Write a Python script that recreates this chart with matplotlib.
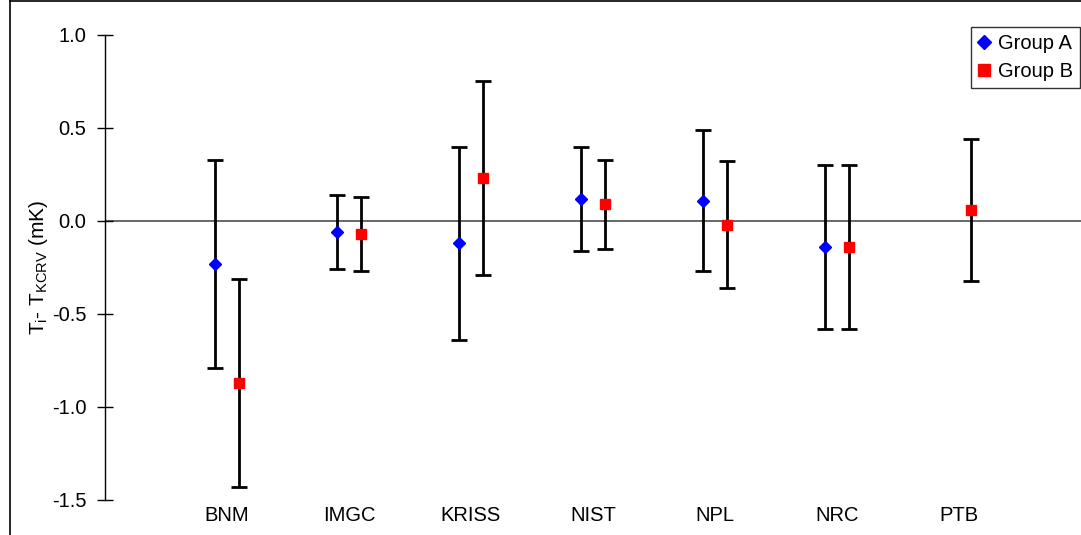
import matplotlib.pyplot as plt
import numpy as np
from matplotlib.lines import Line2D

plt.rcParams['font.family'] = ['Liberation Sans', 'DejaVu Sans']

labs = ['BNM', 'IMGC', 'KRISS', 'NIST', 'NPL', 'NRC', 'PTB']

# group A (no PTB value)
a_val = [-0.23, -0.06, -0.12, 0.12, 0.11, -0.14]
a_err = [0.56, 0.20, 0.52, 0.28, 0.38, 0.44]
# group B
b_val = [-0.87, -0.07, 0.23, 0.09, -0.02, -0.14, 0.06]
b_err = [0.56, 0.20, 0.52, 0.24, 0.34, 0.44, 0.38]

fig = plt.figure(figsize=(10.81, 5.35), dpi=100)
ax = fig.add_axes([105/1081, 35/535, 1 - 105/1081, 465/535])

xa = np.arange(1, len(a_val) + 1) - 0.1
xb = np.arange(1, len(b_val) + 1) + 0.1

ax.axhline(0, color='#404040', lw=1.1, zorder=1)

ax.errorbar(xa, a_val, yerr=a_err, fmt='D', color='blue', ms=6.5, mec='blue',
            ecolor='black', elinewidth=2, capsize=6, capthick=2, label='Group A', zorder=3)
ax.errorbar(xb, b_val, yerr=b_err, fmt='s', color='red', ms=7.5, mec='red',
            ecolor='black', elinewidth=2, capsize=6, capthick=2, label='Group B', zorder=3)

ax.set_xlim(0, 8)
ax.set_ylim(-1.5, 1.0)
ax.set_yticks([-1.5, -1.0, -0.5, 0.0, 0.5, 1.0])
ax.set_yticklabels(['-1.5', '-1.0', '-0.5', '0.0', '0.5', '1.0'])
ax.set_xticks(np.arange(1, len(labs) + 1))
ax.set_xticklabels(labs)
ax.tick_params(axis='y', direction='inout', length=11, width=1, labelsize=14.5, pad=8)
ax.tick_params(axis='x', length=0, labelsize=14.5, pad=4)

for s in ['top', 'right', 'bottom']:
    ax.spines[s].set_visible(False)
ax.spines['left'].set_linewidth(1)

ax.set_ylabel(r'T$_\mathregular{i}$- T$_\mathregular{KCRV}$ (mK)', fontsize=15, labelpad=1)

# legend, without the error bars
h = [Line2D([], [], marker='D', color='blue', ls='none', ms=7),
     Line2D([], [], marker='s', color='red', ls='none', ms=8)]
leg = ax.legend(h, ['Group A', 'Group B'], loc='upper right', bbox_to_anchor=(1080/1081, 1 - 27/535),
                bbox_transform=fig.transFigure, fontsize=14.5, frameon=True, fancybox=False,
                edgecolor='black', handlelength=0.6, handletextpad=0.4, borderpad=0.35,
                labelspacing=0.45, borderaxespad=0)
leg.get_frame().set_linewidth(1)

# outer chart border (left and top edges visible)
fig.add_artist(Line2D([10/1081, 10/1081], [0, 1 - 1/535], color='black', lw=1.2, transform=fig.transFigure))
fig.add_artist(Line2D([10/1081, 1], [1 - 1/535, 1 - 1/535], color='black', lw=1.2, transform=fig.transFigure))

fig.savefig('out.png', dpi=100)
